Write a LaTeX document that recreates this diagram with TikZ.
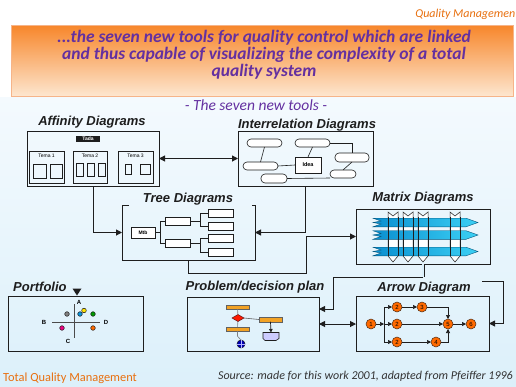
\documentclass[tikz,border=0pt]{standalone}
\usepackage{fontspec}
\setmainfont{Carlito}
\newfontfamily\arialf{Liberation Sans}
\usetikzlibrary{arrows.meta,shapes.geometric,calc}
\definecolor{hdrpurple}{HTML}{6430A0}
\definecolor{tqmorange}{HTML}{E8700F}
\definecolor{hdrtop}{HTML}{F7862A}
\definecolor{hdrmid}{HTML}{FBB577}
\definecolor{hdrbot}{HTML}{FDE6CF}
\definecolor{hdrline}{HTML}{F6B489}
\definecolor{bgtop}{HTML}{F4FAFE}
\definecolor{bgbot}{HTML}{DCF0FA}
\definecolor{ink}{HTML}{1E1E1E}
\definecolor{barorange}{HTML}{F2A225}
\definecolor{nodeorange}{HTML}{FF6A00}
\definecolor{cyanL}{HTML}{0A8FD0}
\definecolor{cyanR}{HTML}{3CD0F4}
\definecolor{srcgray}{HTML}{333333}
\tikzset{
  box/.style={draw=ink, line width=1pt, inner sep=0pt, outer sep=0pt},
  ttl/.style={font=\arialf\bfseries\itshape\fontsize{13}{15}\selectfont, text=ink, inner sep=0pt},
  conn/.style={draw=ink, line width=1pt},
  arr/.style={conn, -{Triangle[length=6pt,width=6pt]}},
  dbl/.style={conn, {Triangle[length=6pt,width=6pt]}-{Triangle[length=6pt,width=6pt]}},
  thinl/.style={draw=ink, line width=0.6pt},
  small/.style={draw=ink, line width=0.6pt, fill=white, inner sep=0pt, outer sep=0pt},
  rnd/.style={small, rounded corners=4pt, minimum height=8pt},
  tiny/.style={font=\arialf\bfseries\fontsize{5}{5}\selectfont},
  obar/.style={draw=ink!70, line width=0.4pt, fill=barorange, minimum width=23pt, minimum height=4.5pt, inner sep=0pt, outer sep=0pt},
  anode/.style={circle, draw=ink!80!nodeorange, line width=0.5pt, fill=nodeorange, minimum size=10pt, inner sep=0pt, outer sep=0pt, font=\arialf\fontsize{6}{6}\selectfont},
  sarr/.style={draw=ink, line width=0.7pt, -{Triangle[length=4pt,width=4pt]}},
  pdot/.style={circle, draw=ink, line width=0.5pt, minimum size=4.6pt, inner sep=0pt},
  plab/.style={font=\arialf\bfseries\fontsize{6}{6}\selectfont, inner sep=0pt}
}
\begin{document}
\begin{tikzpicture}[x=1pt,y=-1pt]
\useasboundingbox (0,0) rectangle (516,386);
\clip (0,0) rectangle (516,386);
% backgrounds
\fill[white] (0,0) rectangle (516,386);
\fill[top color=bgtop, bottom color=bgbot] (0,97) rectangle (516,386);
\node[draw=hdrline, line width=1pt, top color=hdrtop, middle color=hdrmid, bottom color=hdrbot, minimum width=502pt, minimum height=71pt, inner sep=0pt] (hdr) at (262,60.5) {};
\node[align=center, text=hdrpurple, font=\bfseries\itshape\fontsize{17.5}{17}\selectfont, inner sep=0pt] (hdrtxt) at (264,55) {...the seven new tools for quality control which are linked\\and thus capable of visualizing the complexity of a total\\quality system};
\node[anchor=east, text=tqmorange, font=\itshape\fontsize{12}{12}\selectfont, inner sep=0pt] (qm) at (515.5,14) {Quality Managemen};
\node[text=hdrpurple, font=\itshape\fontsize{15.5}{15.5}\selectfont, inner sep=0pt] (sub) at (256,105) {- The seven new tools -};

% titles
\node[ttl] (taff) at (92,122) {Affinity Diagrams};
\node[ttl] (tint) at (307,125) {Interrelation Diagrams};
\node[ttl] (ttree) at (188,199) {Tree Diagrams};
\node[ttl] (tmat) at (423,198) {Matrix Diagrams};
\node[ttl, anchor=west] (tport) at (13,287) {Portfolio};
\node[ttl] (tprob) at (255,287) {Problem/decision plan};
\node[ttl] (tarw) at (424,288) {Arrow Diagram};

% main panels
\node[box, minimum width=132pt, minimum height=55pt] (aff) at (93,158.5) {};
\node[box, minimum width=135pt, minimum height=55pt] (inter) at (305.5,158.5) {};
\node[inner sep=0pt, outer sep=0pt, minimum width=133pt, minimum height=55pt] (tree) at (188.5,232.5) {};
\draw[conn] ([xshift=7pt]tree.north west) -- (tree.north west) -- (tree.south west) -- (tree.south east) -- (tree.north east) -- ([xshift=-3pt]tree.north east);
\node[box, minimum width=134pt, minimum height=55pt] (mat) at (423,236.5) {};
\node[box, minimum width=135pt, minimum height=55pt] (port) at (75.5,323.5) {};
\node[box, minimum width=132pt, minimum height=54pt] (prob) at (253,324) {};
\node[box, minimum width=133pt, minimum height=55pt] (arw) at (422.5,323.5) {};

% affinity contents
\node[fill=ink, text=white, tiny, inner sep=0.6pt, minimum width=24pt, minimum height=6pt] (tada) at (88,139) {Tada};
\node[small, line width=0.8pt, fill=none, minimum width=35pt, minimum height=32pt] (t1) at (46.5,167) {};
\node[small, line width=0.8pt, fill=none, minimum width=34pt, minimum height=32pt] (t2) at (90,167) {};
\node[small, line width=0.8pt, fill=none, minimum width=35pt, minimum height=32pt] (t3) at (135.5,167) {};
\node[tiny, font=\arialf\fontsize{5}{5}\selectfont, inner sep=0pt] (lt1) at ([yshift=-5pt]t1.north) {Tema 1};
\node[tiny, font=\arialf\fontsize{5}{5}\selectfont, inner sep=0pt] (lt2) at ([yshift=-5pt]t2.north) {Tema 2};
\node[tiny, font=\arialf\fontsize{5}{5}\selectfont, inner sep=0pt] (lt3) at ([yshift=-5pt]t3.north) {Tema 3};
\draw[thinl, line width=0.8pt] (33,164) rectangle (46,178) (50,164) rectangle (62,178);
\draw[thinl, line width=0.8pt] (76,163) rectangle (83,176) (87,163) rectangle (94,176) (98,163) rectangle (105,176);
\draw[thinl, line width=0.8pt] (125,164) rectangle (131,174) (140,164) rectangle (150,174);

% interrelation contents
\node[rnd, minimum width=35pt] (i1) at (264.5,143) {};
\node[rnd, minimum width=35pt] (i2) at (312.5,143) {};
\node[rnd, minimum width=35pt] (i3) at (260.5,166) {};
\node[small, line width=0.8pt, minimum width=26pt, minimum height=16pt, tiny, font=\arialf\bfseries\fontsize{5.5}{5.5}\selectfont] (idea) at (308,165) {Idea};
\node[rnd, minimum width=34pt, minimum height=9pt] (i4) at (352,157.5) {};
\node[rnd, minimum width=26pt] (i5) at (343,174) {};
\node[rnd, minimum width=26pt, minimum height=9pt] (i6) at (274,178.5) {};
\draw[thinl] (i1.south) -- (i3.north);
\draw[thinl] (i2.south) -- (idea.north);
\draw[thinl] (i3.east) -- (idea.west);
\draw[thinl] (i2.east) -| (i4.north);
\draw[thinl] (i4.south) -- (i5.north);
\draw[thinl] (i6.east) -- (i5.south west);

% tree contents
\node[small, line width=0.8pt, minimum width=24pt, minimum height=11pt, tiny] (mtb) at (143,232.5) {Mtb};
\node[small, minimum width=25pt, minimum height=8pt] (b1) at (177.5,221) {};
\node[small, minimum width=25pt, minimum height=8pt] (b2) at (177.5,243) {};
\node[small, minimum width=25pt, minimum height=8pt] (l1) at (220.5,213) {};
\node[small, minimum width=25pt, minimum height=8pt] (l2) at (220.5,226) {};
\node[small, minimum width=25pt, minimum height=8pt] (l3) at (220.5,238.5) {};
\node[small, minimum width=25pt, minimum height=8pt] (l4) at (220.5,252) {};
\draw[thinl] (mtb.east) -- ++(5,0);
\draw[thinl] (b1.west) -- ++(-5,0) |- (b2.west);
\draw[thinl] (b1.east) -- ++(10,0);
\draw[thinl] (b2.east) -- ++(10,0);
\draw[thinl] (l1.west) -- ++(-8,0) |- (l2.west);
\draw[thinl] (l3.west) -- ++(-8,0) |- (l4.west);

% matrix contents
\foreach \xa/\xb in {388/398, 403/413, 418/428, 450/460} {
  \pgfmathsetmacro\xc{(\xa+\xb)/2}
  \draw[thinl, fill=white, line width=0.5pt] (\xa,212) -- (\xc,216) -- (\xb,212) -- (\xb,256) -- (\xc,262) -- (\xa,256) -- cycle;
}
\foreach \c in {222.5, 235, 251.5} {
  \draw[draw=cyanL!60!black, line width=0.4pt, left color=cyanL, right color=cyanR]
    (373,\c-4.3) -- (466,\c-4.3) -- (478,\c) -- (466,\c+4.3) -- (373,\c+4.3) -- (381,\c+1.5) -- (373,\c) -- (381,\c-1.5) -- cycle;
}
\foreach \xa/\xb in {388/398, 403/413, 418/428, 450/460} {
  \draw[thinl, line width=0.5pt] (\xa,217) -- (\xa,256) (\xb,217) -- (\xb,256);
}

% portfolio contents
\fill[ink] (72.5,288.5) -- (81.5,288.5) -- (77,295.5) -- cycle;
\draw[draw=ink!80, line width=0.8pt] (74,304) -- (74,338);
\draw[draw=ink!80, line width=0.8pt] (52,322) -- (100,322);
\node[plab] (pa) at (79,302) {A};
\node[plab] (pb) at (44,322) {B};
\node[plab] (pd) at (106,322) {D};
\node[plab] (pc) at (68,341) {C};
\node[pdot, fill=gray] (d1) at (67,314) {};
\node[pdot, fill=cyan!80!blue] (d2) at (80,314) {};
\node[pdot, fill=yellow!85!orange] (d3) at (84,310.5) {};
\node[pdot, fill=green!60!black] (d4) at (93,314) {};
\node[pdot, fill=magenta!90!red] (d5) at (62,328) {};
\node[pdot, fill=nodeorange] (d6) at (93,328) {};

% problem/decision contents
\node[obar] (p1) at (237.5,307) {};
\node[diamond, aspect=1.8, draw=ink!70!red, line width=0.5pt, fill=red!80!orange, minimum width=12pt, minimum height=7pt, inner sep=0pt, outer sep=0pt] (pdm) at (238,318) {};
\node[obar] (p2) at (237.5,329) {};
\node[circle, draw=ink, line width=0.5pt, fill=blue!70!black, minimum size=8pt, inner sep=0pt, outer sep=0pt] (pcir) at (241,344) {};
\draw[white!70!blue, line width=0.4pt] (pcir.north) -- (pcir.south) (pcir.west) -- (pcir.east);
\node[obar] (p3) at (270.5,319.5) {};
\draw[draw=ink, line width=0.6pt, fill=blue!20!white] (263,332.5) -- (279,332.5) -- (279,338.5) -- (276,340.5) -- (265,340.5) -- (263,338.5) -- cycle;
\coordinate (pdoc) at (271,332.5);
\draw[draw=gray, line width=0.6pt] (p1) -- (pdm);
\draw[draw=gray, line width=0.6pt] (pdm) -- (p2);
\draw[draw=ink!70, line width=0.6pt] (pdm.east) -- (p3.west);
\draw[draw=gray, line width=0.6pt] (p2.south) -- ++(0,5) -- (pcir.north);
\draw[draw=ink, line width=0.7pt, -{Triangle[length=3.5pt,width=3.5pt]}] (p3.south) -- (pdoc);

% arrow diagram contents
\node[anode] (a1) at (371,324) {1};
\node[anode] (a2a) at (397,307) {2};
\node[anode] (a3) at (422,307) {3};
\node[anode] (a2b) at (397,324) {2};
\node[anode] (a5) at (448,324) {5};
\node[anode] (a6) at (471,324) {6};
\node[anode] (a2c) at (397,342) {2};
\node[anode] (a4) at (436,342) {4};
\coordinate (sp) at (384,324);
\draw[sarr] (a1) -- (sp);
\draw[draw=ink, line width=0.7pt] (a2a.west -| sp) -- (a2c.west -| sp);
\draw[sarr] (a2a.west -| sp) -- (a2a);
\draw[sarr] (sp) -- (a2b);
\draw[sarr] (a2c.west -| sp) -- (a2c);
\draw[sarr] (a2a) -- (a3);
\draw[sarr] (a3) -| (a5);
\draw[sarr] (a2b) -- (a5);
\draw[sarr] (a2c) -- (a4);
\draw[sarr] (a4) -| (a5);
\draw[sarr] (a5) -- (a6);

% connectors
\draw[dbl] (aff) -- (inter);
\draw[arr] (aff.south) |- (tree.west);
\draw[arr] (inter.south) |- (tree.east);
\coordinate (c1) at (306,273);
\draw[arr] (tree.south) |- (c1) |- (mat.west);
\coordinate (c2) at (333,277);
\draw[conn, double=bgbot, double distance=1.6pt, line width=0.7pt] (mat.south) -- (mat.south |- c2);
\draw[arr] (mat.south |- c2) -- (c2) |- ([yshift=15pt]prob.east);
\draw[dbl] (prob.east) -- (prob.east -| arw.west);
\coordinate (c4) at (482,281);
\draw[arr] (c4) -- ++(21,0) |- (arw.east);

% footer
\node[anchor=west, text=tqmorange, font=\fontsize{12.4}{12.4}\selectfont, inner sep=0pt] (tqm) at (3,378) {Total Quality Management};
\node[anchor=east, text=srcgray, font=\itshape\fontsize{12}{12}\selectfont, inner sep=0pt] (src) at (513,376) {Source: made for this work 2001, adapted from Pfeiffer 1996};
\end{tikzpicture}
\end{document}
